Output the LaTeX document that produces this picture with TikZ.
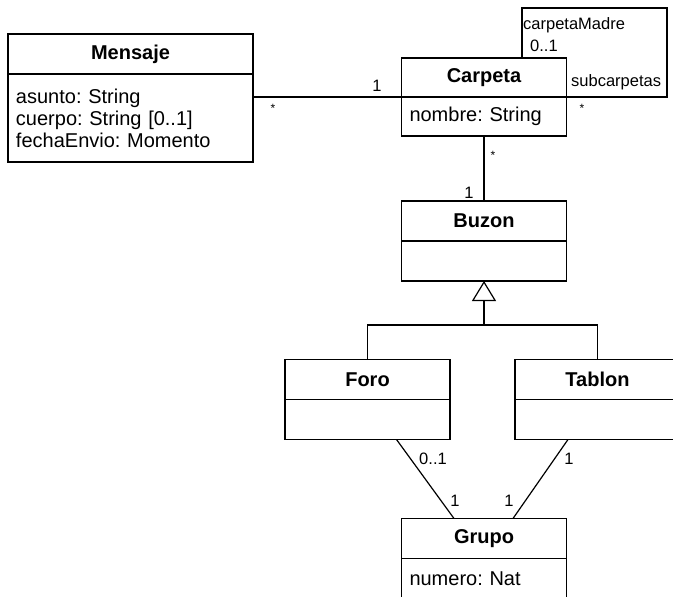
\documentclass[tikz,border=0pt]{standalone}
\usepackage{fontspec}
\setmainfont{Liberation Sans}
\usetikzlibrary{positioning, arrows.meta}
\frenchspacing

\begin{document}
\begin{tikzpicture}[
    x=1pt, y=1pt,
    hdr/.style={draw, rectangle, line width=1.2pt, outer sep=0pt, inner sep=0pt, minimum width=165pt, minimum height=40pt, font=\fontsize{20}{22}\selectfont\bfseries},
    att/.style={draw, rectangle, line width=1.2pt, outer sep=0pt, inner xsep=8pt, inner ysep=0pt, text width=149pt, minimum height=40pt, align=left, font=\fontsize{20}{22}\selectfont},
    lbl/.style={inner sep=0pt, font=\fontsize{16.5}{19}\selectfont},
    star/.style={inner sep=0pt, font=\fontsize{12}{12}\selectfont},
    assoc/.style={line width=1.2pt}
]
    \useasboundingbox (0,0) rectangle (673,-597);

    % Classes
    \node[hdr, minimum width=245pt] (mensaje) at (130.5,-54) {Mensaje};
    \node[att, text width=229pt, minimum height=88pt, below=0pt of mensaje] (mensajeAtt) {asunto: String\\ cuerpo: String [0..1]\\ fechaEnvio: Momento};

    \node[hdr, minimum height=39pt] (carpeta) at (484,-77.5) {Carpeta};
    \node[att, minimum height=39pt, below=0pt of carpeta] (carpetaAtt) {nombre: String};

    \node[hdr, below=65pt of carpetaAtt] (buzon) {Buzon};
    \node[att, below=0pt of buzon] (buzonAtt) {};

    \node[hdr] (foro) at (367.5,-379.5) {Foro};
    \node[att, below=0pt of foro] (foroAtt) {};
    \node[hdr] (tablon) at (597.5,-379.5) {Tablon};
    \node[att, below=0pt of tablon] (tablonAtt) {};

    \node[hdr] (grupo) at (484,-538.5) {Grupo};
    \node[att, below=0pt of grupo] (grupoAtt) {numero: Nat};

    % Mensaje -- Carpeta
    \draw[assoc] (carpeta.south west) -- (carpeta.south west -| mensajeAtt.east);
    \node[lbl] (mcOne) at (377,-86) {1};
    \node[star] (mcStar) at (273,-108) {*};

    % Carpeta self association
    \coordinate (loopCorner) at (667,-8);
    \draw[assoc] ([xshift=38pt]carpeta.north) |- (loopCorner) |- (carpeta.south east);
    \node[lbl, anchor=west] (madre) at (523,-25) {carpetaMadre};
    \node[lbl, anchor=west] (madreMult) at (530,-46) {0..1};
    \node[lbl, anchor=west] (sub) at (571,-82) {subcarpetas};
    \node[star] (subStar) at (582,-108) {*};

    % Carpeta -- Buzon
    \draw[assoc] (carpetaAtt.south) -- (buzon.north);
    \node[star] (cbStar) at (493,-155) {*};
    \node[lbl] (cbOne) at (469,-193) {1};

    % Generalization
    \coordinate[below=44pt of buzonAtt] (split);
    \draw[assoc] (foro.north) |- (split) -| (tablon.north);
    \draw[assoc, -{Triangle[open, length=20pt, width=24pt, line width=1.2pt]}] (split) -- (buzonAtt.south);

    % Foro / Tablon -- Grupo
    \draw[assoc] ([xshift=29pt]foroAtt.south) -- ([xshift=-30pt]grupo.north);
    \draw[assoc] ([xshift=-29.5pt]tablonAtt.south) -- ([xshift=29pt]grupo.north);
    \node[lbl] (fgMult) at (433,-459) {0..1};
    \node[lbl] (fgOne) at (455,-501) {1};
    \node[lbl] (tgOne) at (509,-501) {1};
    \node[lbl] (tgMult) at (569,-459) {1};
\end{tikzpicture}
\end{document}
